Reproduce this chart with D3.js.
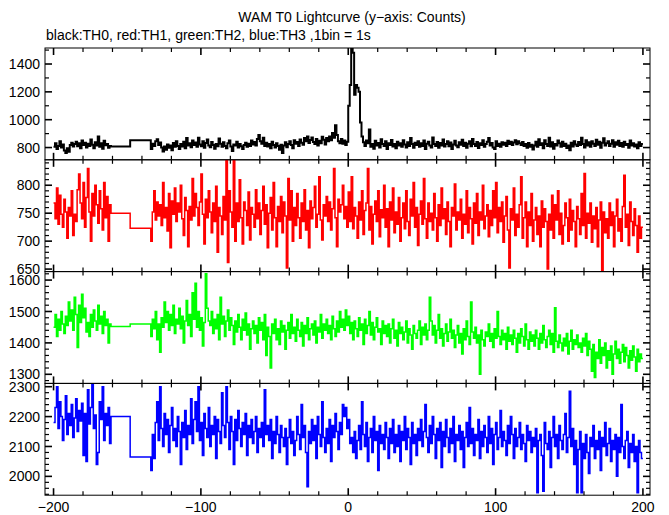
<!DOCTYPE html>
<html><head><meta charset="utf-8">
<script src="https://cdn.jsdelivr.net/npm/d3@7"></script>
<style>
body{margin:0;background:#fff}
svg{display:block}
text{font-family:"Liberation Sans",Arial,Helvetica,sans-serif;font-size:14px;fill:#000}
</style>
</head><body>
<svg id="chart" width="669" height="515"></svg>
<script>
const titleText = "WAM T0 Lightcurve (y\u2212axis: Counts)";
const subtitleText = "black:TH0, red:TH1, green:TH2, blue:TH3 ,1bin = 1s";
const seriesNames = ["TH0", "TH1", "TH2", "TH3"];
const seriesColors = ["#000000", "#ff0000", "#00ff00", "#0000ff"];

// time bins (1 s)
const seg1Start = -200;
const gapStarts = [-161, -148];
const seg2Start = -134;
const dataEnd = 200;

// TH0 (black)
const th0Seg1 = [805,830,790,812,845,800,822,778,760,795,
770,818,835,808,826,842,810,830,795,850,
818,835,800,828,812,858,820,795,838,815,
880,805,830,792,848,816,826,798,812];
const th0Gap = [808, 852];
const th0Seg2 = [790,828,812,845,860,818,836,800,772,808,
785,822,798,815,780,832,805,845,812,790,
826,808,842,795,868,815,830,802,850,818,
836,805,870,822,810,845,798,832,858,815,
803,840,818,792,826,810,865,828,805,838,
812,795,830,850,808,776,822,815,842,800,
826,810,790,818,835,805,828,812,850,822,
840,815,862,890,845,828,870,812,835,808,
826,795,842,818,800,830,812,785,820,760,
815,838,802,826,845,818,795,852,828,840,
812,858,835,820,868,845,880,832,855,872,
840,826,862,815,848,830,878,856,822,868,
845,880,852,905,870,960,890,845,830,862,
828,850,818,842,1100,1250,1520,1480,1180,1250,
1230,1200,980,880,838,812,850,830,930,805,
826,792,848,815,832,800,860,826,812,845,
790,830,818,855,808,826,795,842,815,830,
805,852,822,800,838,812,868,826,798,834,
818,845,805,830,812,850,790,828,842,815,
800,872,826,812,840,798,832,815,858,808,
826,845,810,836,790,822,848,815,802,838,
820,856,812,834,798,828,845,810,862,825,
812,840,796,830,818,852,805,826,842,868,
815,832,800,790,845,812,828,806,838,820,
835,812,848,826,842,818,836,852,824,846,
830,818,840,812,825,798,832,806,820,786,
815,842,805,860,818,830,795,852,826,812,
870,808,838,792,826,815,850,830,805,842,
812,828,796,815,780,835,808,845,822,812,
840,818,870,826,800,852,815,838,806,845,
828,812,856,820,842,798,835,866,815,830,
845,812,828,852,806,838,820,848,812,832,
805,842,818,826,798,850,815,830,808,822,
795,838,812,826];

// TH1 (red)
const th1Seg1 = [768,740,795,730,782,748,725,775,752,705,
760,745,790,710,748,735,792,820,768,740,
805,725,778,830,752,700,785,745,800,765,
732,790,758,720,805,742,780,700,765];
const th1Gap = [750, 723];
const th1Seg2 = [700,752,790,738,770,745,765,728,805,742,
760,718,785,688,772,748,795,735,768,752,
800,740,710,778,755,690,762,738,812,745,
785,760,728,770,820,748,695,775,742,790,
752,715,768,735,798,680,760,745,712,780,
738,845,662,790,752,725,845,700,768,735,
810,742,695,770,755,728,788,702,760,748,
725,792,740,768,712,755,798,730,765,688,
750,778,720,805,742,690,762,735,780,715,
770,745,652,812,738,790,700,760,728,785,
742,705,768,735,792,720,755,688,772,740,
760,798,725,748,815,738,702,765,745,780,
735,770,720,758,830,742,690,775,752,765,
800,740,762,725,788,735,815,722,760,745,
705,770,738,790,712,755,768,830,720,762,
695,748,772,735,790,708,756,742,800,725,
758,690,770,738,795,715,752,730,778,700,
742,768,722,790,735,710,775,745,805,725,
760,692,748,772,730,812,740,705,768,735,
750,720,785,742,700,765,728,795,740,758,
712,770,735,690,760,745,802,720,752,738,
775,705,748,730,790,715,760,740,695,768,
732,785,710,752,738,800,722,745,765,708,
755,728,790,742,805,715,760,735,770,698,
745,780,720,652,758,738,795,710,748,725,
765,815,705,742,770,690,752,728,785,700,
738,760,712,745,690,772,725,758,735,650,
748,720,782,705,765,738,790,712,750,695,
728,768,742,700,775,720,755,735,690,762,
740,712,785,728,821,705,750,732,768,698,
745,722,760,690,738,770,645,752,715,740,
705,768,728,752,690,745,775,718,740,700,
762,818,725,748,692,770,735,710,758,728,
680,745,705,725];

// TH2 (green)
const th2Seg1 = [1450,1490,1420,1475,1440,1500,1460,1430,1485,1455,
1530,1470,1505,1440,1545,1490,1385,1520,1465,1555,
1480,1510,1435,1465,1420,1490,1450,1505,1470,1440,
1520,1460,1485,1430,1500,1455,1475,1400,1460];
const th2Gap = [1452, 1460];
const th2Seg2 = [1420,1475,1445,1500,1410,1460,1370,1480,1450,1530,
1465,1500,1440,1490,1455,1520,1430,1475,1460,1510,
1445,1485,1400,1470,1535,1455,1490,1420,1560,1475,
1590,1450,1500,1440,1480,1390,1465,1620,1510,1470,
1455,1500,1430,1475,1445,1490,1410,1545,1460,1485,
1420,1470,1505,1440,1480,1455,1395,1470,1435,1490,
1450,1410,1475,1440,1495,1425,1460,1380,1445,1470,
1430,1455,1400,1480,1440,1465,1410,1490,1360,1450,
1420,1320,1460,1430,1475,1410,1445,1395,1470,1435,
1455,1380,1440,1465,1415,1490,1430,1450,1405,1475,
1440,1420,1465,1390,1455,1430,1480,1410,1445,1460,
1425,1470,1400,1450,1435,1490,1415,1460,1440,1475,
1430,1455,1410,1485,1445,1420,1470,1435,1500,1450,
1475,1440,1505,1455,1485,1430,1465,1410,1470,1445,
1420,1480,1440,1460,1395,1475,1430,1455,1500,1425,
1465,1410,1450,1480,1435,1445,1395,1470,1430,1455,
1420,1460,1400,1445,1475,1415,1440,1390,1465,1430,
1450,1410,1435,1470,1400,1445,1425,1380,1455,1430,
1415,1440,1470,1395,1450,1425,1460,1410,1440,1545,
1470,1425,1455,1400,1440,1490,1415,1445,1390,1430,
1460,1405,1435,1475,1415,1440,1385,1425,1455,1400,
1430,1365,1445,1410,1470,1420,1395,1530,1435,1415,
1450,1400,1425,1300,1440,1410,1390,1435,1420,1460,
1405,1430,1385,1445,1415,1500,1420,1395,1440,1410,
1430,1380,1450,1405,1425,1395,1440,1415,1370,1430,
1400,1445,1420,1390,1460,1410,1380,1435,1405,1425,
1390,1440,1415,1380,1430,1400,1455,1410,1385,1420,
1440,1395,1430,1370,1512,1405,1385,1425,1400,1375,
1415,1390,1430,1365,1405,1440,1380,1410,1395,1425,
1385,1400,1370,1415,1390,1430,1360,1405,1380,1310,
1395,1290,1370,1350,1410,1335,1385,1360,1400,1320,
1375,1345,1390,1300,1365,1405,1350,1380,1335,1370,
1395,1340,1385,1360,1320,1375,1345,1390,1355,1310,
1380,1340,1365,1350];

// TH3 (blue)
const th3Seg1 = [2180,2230,2300,2160,2250,2200,2120,2190,2270,2140,
2210,2170,2240,2130,2195,2260,2150,2220,2185,2245,
2070,2210,2050,2290,2175,2230,2310,2160,2205,2040,
2080,2250,2190,2300,2120,2210,2170,2230,2110];
const th3Gap = [2200, 2065];
const th3Seg2 = [2020,2140,2060,2180,2250,2120,2300,2160,2100,2210,
2140,2190,2080,2170,2230,2120,2160,2100,2200,2150,
2040,2180,2130,2220,2090,2170,2140,2260,2110,2190,
2250,2150,2300,2120,2180,2070,2210,2160,2130,2230,
2100,2170,2140,2200,2060,2190,2150,2110,2280,2170,
2130,2300,2180,2090,2200,2150,2040,2190,2120,2220,
2160,2100,2180,2140,2210,2070,2170,2130,2190,2110,
2150,2200,2080,2160,2130,2180,2100,2290,2140,2170,
2120,2190,2060,2150,2110,2200,2140,2080,2170,2130,
2100,2160,2040,2130,2190,2110,2150,2070,2120,2200,
2140,2090,2240,2130,2170,2080,1965,2150,2110,2190,
2120,2170,2060,2200,2140,2100,2250,2130,2080,2160,
2110,2190,2050,2170,2130,2210,2150,2090,2180,2140,
2240,2200,2230,2160,2190,2110,2130,2080,2150,2060,
2120,2170,2090,2250,2140,2100,2180,2050,2130,2160,
2080,2200,2120,2150,2020,2170,2110,2140,2090,2180,
2130,2060,2160,2110,2190,2080,2140,2100,2170,2050,
2150,2120,2200,2090,2160,2130,2040,2180,2110,2140,
2070,2160,2120,2190,2100,2150,2240,2130,2080,2170,
2110,2200,2140,2060,2160,2120,2180,2030,2150,2100,
2190,2130,2080,2160,2110,2200,2050,2140,2120,2170,
2090,2150,2030,2130,2180,2100,2230,2110,2160,2070,
2140,2120,2190,2060,2150,2100,2170,2130,2080,2200,
2110,2160,2040,2140,2180,2090,2130,2220,2100,2150,
2120,2070,2170,2110,2200,2140,2060,2160,2100,2130,
2180,2090,2140,2110,2050,2170,2120,2150,2080,2130,
2100,2160,1945,2120,2140,2070,1950,2180,2110,2090,
2150,2030,2130,2200,2100,2140,2060,2170,2120,2090,
2140,2210,2080,2130,2285,2100,2160,2040,2120,1945,
2090,2150,1945,2110,2060,2140,2080,2010,2130,2100,
2170,2060,2120,2090,2150,2020,2130,2100,2180,2070,
2110,2160,2050,2120,2090,2140,2000,2130,2080,2240,
2100,2060,2120,2150,2030,2110,2080,2140,2050,2100,
1945,2120,2080,2060];

// axes
const xDomain = [-205.8, 204.8];
const xMajorTicks = [-200, -100, 0, 100, 200];
const xTickLabels = ["\u2212200", "\u2212100", "0", "100", "200"];
const xMinorStep = 20;
const yDomains = [[712, 1515], [645.5, 845.5], [1271, 1627], [1937, 2311]];
const yMajorTicks = [[800, 1000, 1200, 1400], [650, 700, 750, 800], [1300, 1400, 1500, 1600], [2000, 2100, 2200, 2300]];
const yMinorSteps = [100, 10, 20, 20];

const seg1s = [th0Seg1, th1Seg1, th2Seg1, th3Seg1];
const gaps = [th0Gap, th1Gap, th2Gap, th3Gap];
const seg2s = [th0Seg2, th1Seg2, th2Seg2, th3Seg2];

// layout
const left = 45, right = 650;
const panelTop = 48, panelH = 111.8;
const svg = d3.select("#chart");
const x = d3.scaleLinear().domain(xDomain).range([left, right]);

svg.append("text").attr("x", 352).attr("y", 22).attr("text-anchor", "middle").text(titleText);
svg.append("text").attr("x", 46).attr("y", 40).text(subtitleText);

const line = d3.line().curve(d3.curveStepAfter).x(d => x(d[0])).y(d => d[1]);

seriesNames.forEach((name, i) => {
  const top = panelTop + i * panelH, bottom = top + panelH;
  const y = d3.scaleLinear().domain(yDomains[i]).range([bottom, top]);
  const g = svg.append("g");

  const clipId = "clip" + i;
  svg.append("clipPath").attr("id", clipId).append("rect")
    .attr("x", left).attr("y", top).attr("width", right - left).attr("height", panelH);

  const pts = [];
  seg1s[i].forEach((v, k) => pts.push([seg1Start + k, y(v)]));
  gaps[i].forEach((v, k) => pts.push([gapStarts[k], y(v)]));
  seg2s[i].forEach((v, k) => pts.push([seg2Start + k, y(v)]));
  const last = seg2s[i][seg2s[i].length - 1];
  pts.push([seg2Start + seg2s[i].length, y(last)]);

  g.append("path").attr("d", line(pts)).attr("fill", "none")
    .attr("stroke", seriesColors[i]).attr("stroke-width", i === 0 ? 2 : 1.5)
    .attr("clip-path", `url(#${clipId})`);

  // frame
  g.append("rect").attr("x", left).attr("y", top).attr("width", right - left).attr("height", panelH)
    .attr("fill", "none").attr("stroke", "#000").attr("stroke-width", 1);

  // x ticks top & bottom
  const xMinor = d3.range(-200, 201, xMinorStep).filter(t => !xMajorTicks.includes(t));
  xMinor.forEach(t => {
    g.append("line").attr("x1", x(t)).attr("x2", x(t)).attr("y1", top).attr("y2", top + 4).attr("stroke", "#000").attr("stroke-width", 1.2);
    g.append("line").attr("x1", x(t)).attr("x2", x(t)).attr("y1", bottom).attr("y2", bottom - 4).attr("stroke", "#000").attr("stroke-width", 1.2);
  });
  xMajorTicks.forEach(t => {
    g.append("line").attr("x1", x(t)).attr("x2", x(t)).attr("y1", top).attr("y2", top + 7).attr("stroke", "#000").attr("stroke-width", 1.6);
    g.append("line").attr("x1", x(t)).attr("x2", x(t)).attr("y1", bottom).attr("y2", bottom - 7).attr("stroke", "#000").attr("stroke-width", 1.6);
  });

  // y ticks left & right
  const [lo, hi] = yDomains[i];
  const step = yMinorSteps[i];
  const yMinor = d3.range(Math.ceil(lo / step) * step, hi, step).filter(v => !yMajorTicks[i].includes(v));
  yMinor.forEach(v => {
    g.append("line").attr("x1", left).attr("x2", left + 4).attr("y1", y(v)).attr("y2", y(v)).attr("stroke", "#000").attr("stroke-width", 1.2);
    g.append("line").attr("x1", right).attr("x2", right - 4).attr("y1", y(v)).attr("y2", y(v)).attr("stroke", "#000").attr("stroke-width", 1.2);
  });
  yMajorTicks[i].forEach(v => {
    g.append("line").attr("x1", left).attr("x2", left + 7).attr("y1", y(v)).attr("y2", y(v)).attr("stroke", "#000").attr("stroke-width", 1.6);
    g.append("line").attr("x1", right).attr("x2", right - 7).attr("y1", y(v)).attr("y2", y(v)).attr("stroke", "#000").attr("stroke-width", 1.6);
    g.append("text").attr("x", 40).attr("y", y(v)).attr("dy", "0.36em").attr("text-anchor", "end").text(v);
  });
});

// bottom x labels
const bottomY = panelTop + 4 * panelH;
xMajorTicks.forEach((t, k) => {
  svg.append("text").attr("x", x(t)).attr("y", bottomY + 17).attr("text-anchor", "middle").text(xTickLabels[k]);
});
</script>
</body></html>
